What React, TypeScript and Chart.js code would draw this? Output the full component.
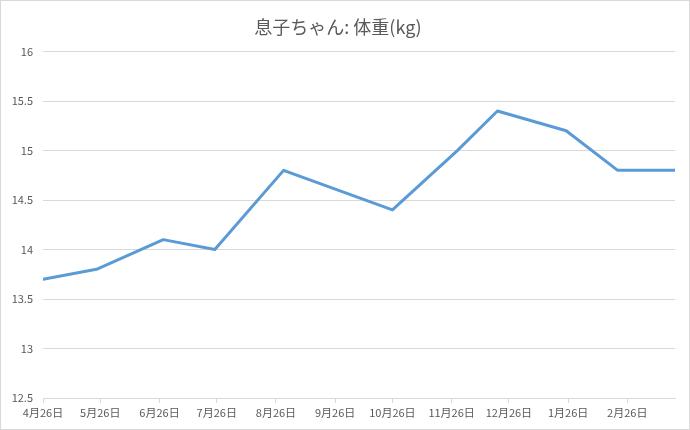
import React, { useEffect, useRef } from 'react';
import { Chart, registerables } from 'chart.js';

Chart.register(...registerables);

const chartTitle = '息子ちゃん: 体重(kg)';

// measurement dates and weights (kg)
const measureDates = [
  '2016-04-26', '2016-05-24', '2016-06-28', '2016-07-25', '2016-08-30', '2016-10-26',
  '2016-11-29', '2016-12-20', '2017-01-25', '2017-02-21', '2017-03-23',
];
const weights = [13.7, 13.8, 14.1, 14.0, 14.8, 14.4, 15.0, 15.4, 15.2, 14.8, 14.8];

// x axis ticks (every month on the 26th)
const tickDates = [
  '2016-04-26', '2016-05-26', '2016-06-26', '2016-07-26', '2016-08-26', '2016-09-26',
  '2016-10-26', '2016-11-26', '2016-12-26', '2017-01-26', '2017-02-26',
];
const tickLabels = [
  '4月26日', '5月26日', '6月26日', '7月26日', '8月26日', '9月26日',
  '10月26日', '11月26日', '12月26日', '1月26日', '2月26日',
];
const yTicks = [12.5, 13, 13.5, 14, 14.5, 15, 15.5, 16];

const FONT = "'Noto Sans CJK JP', 'Noto Sans', sans-serif";
const TEXT = '#595959';
const GRID = '#d9d9d9';

function toDay(s: string): number {
  const [y, m, d] = s.split('-').map(Number);
  const [y0, m0, d0] = measureDates[0].split('-').map(Number);
  return Math.round((Date.UTC(y, m - 1, d) - Date.UTC(y0, m0 - 1, d0)) / 86400000);
}

function App() {
  const chartRef = useRef<HTMLCanvasElement>(null);

  useEffect(() => {
    let myChart: any = null;
    if (chartRef.current) {
      const ctx = chartRef.current.getContext('2d');
      if (ctx) {
        const tickDays = tickDates.map(toDay);
        const points = measureDates.map((d, i) => ({ x: toDay(d), y: weights[i] }));

        myChart = new Chart(ctx, {
          type: 'line',
          data: {
            datasets: [
              {
                label: chartTitle,
                data: points,
                borderColor: '#5b9bd5',
                backgroundColor: '#5b9bd5',
                borderWidth: 3,
                pointRadius: 0,
                tension: 0,
                borderJoinStyle: 'round',
                borderCapStyle: 'round',
              },
            ],
          },
          options: {
            responsive: false,
            animation: false,
            devicePixelRatio: 1,
            layout: { padding: { left: 0, right: 14, top: 0, bottom: 0 } },
            plugins: {
              legend: { display: false },
              tooltip: { enabled: false },
              title: {
                display: true,
                text: chartTitle,
                color: TEXT,
                font: { family: FONT, size: 18, weight: 'normal', lineHeight: 1.2 },
                padding: { top: 15, bottom: 14 },
              },
            },
            scales: {
              x: {
                type: 'linear',
                min: 0,
                max: toDay(measureDates[measureDates.length - 1]),
                afterBuildTicks: (scale: any) => {
                  scale.ticks = tickDays.map(v => ({ value: v }));
                },
                afterFit: (scale: any) => {
                  scale.height = 31;
                },
                grid: {
                  drawOnChartArea: false,
                  drawTicks: true,
                  tickLength: 5,
                  color: GRID,
                },
                border: { display: true, color: GRID },
                ticks: {
                  autoSkip: false,
                  maxRotation: 0,
                  padding: 3,
                  color: TEXT,
                  font: { family: FONT, size: 11 },
                  callback: (_value: any, index: number) => tickLabels[index] ?? '',
                },
              },
              y: {
                min: 12.5,
                max: 16,
                afterBuildTicks: (scale: any) => {
                  scale.ticks = yTicks.map(v => ({ value: v }));
                },
                afterFit: (scale: any) => {
                  scale.width = 42;
                },
                grid: { color: GRID, drawTicks: false },
                border: { display: false },
                ticks: {
                  padding: 10,
                  color: TEXT,
                  font: { family: FONT, size: 11 },
                  callback: (value: any) => String(value),
                },
              },
            },
          },
        });
      }
    }

    return () => {
      if (myChart) myChart.destroy();
    };
  }, []);

  return (
    <div
      style={{
        position: 'fixed',
        left: 0,
        top: 0,
        width: 690,
        height: 430,
        boxSizing: 'border-box',
        border: '1px solid #d9d9d9',
        background: '#fff',
      }}
    >
      <canvas ref={chartRef} width={688} height={428} style={{ display: 'block' }} />
    </div>
  );
}

export default App;
